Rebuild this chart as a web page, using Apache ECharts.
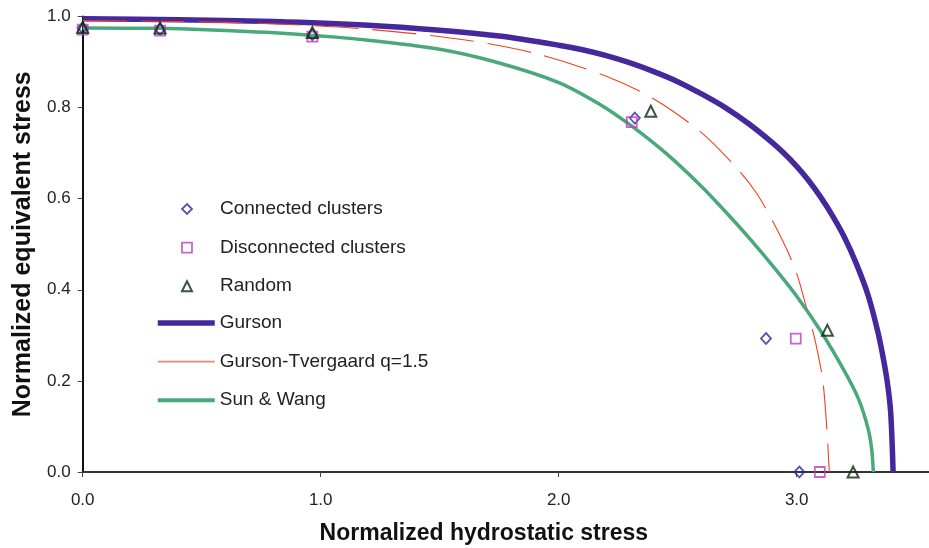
<!DOCTYPE html>
<html>
<head>
<meta charset="utf-8">
<script src="https://cdn.jsdelivr.net/npm/echarts@6/dist/echarts.min.js"></script>
<style>html,body{margin:0;padding:0;background:#fff}#chart{width:929px;height:548px}</style>
</head>
<body>
<div id="chart"></div>
<script>
// ---- data ----
const xTicks = [0, 1, 2, 3];
const yTicks = [0, 0.2, 0.4, 0.6, 0.8, 1.0];

const connected = [[0, 0.975], [0.325, 0.972], [0.965, 0.960], [2.32, 0.777], [2.871, 0.293], [3.011, 0]];
const disconnected = [[0, 0.971], [0.325, 0.969], [0.965, 0.956], [2.307, 0.768], [2.996, 0.293], [3.097, 0]];
const random = [[0, 0.976], [0.325, 0.975], [0.965, 0.965], [2.387, 0.792], [3.129, 0.311], [3.237, 0]];

const gurson = [[0, 0.995], [0.4, 0.993], [0.8, 0.989], [1.2, 0.981], [1.5, 0.970], [1.75, 0.957], [2.0, 0.937],
  [2.1, 0.927], [2.2, 0.914], [2.3, 0.898], [2.4, 0.879], [2.5, 0.857], [2.6, 0.830], [2.7, 0.800], [2.8, 0.764],
  [2.9, 0.722], [2.95, 0.698], [3.0, 0.671], [3.05, 0.640], [3.1, 0.604], [3.15, 0.563], [3.2, 0.516],
  [3.25, 0.458], [3.3, 0.388], [3.34, 0.31], [3.36, 0.26], [3.38, 0.2], [3.395, 0.13], [3.405, 0]];
const gursonTvergaard = [[0, 0.991], [0.4, 0.989], [0.8, 0.984], [1.2, 0.972], [1.6, 0.949], [1.9, 0.919],
  [2.2, 0.869], [2.4, 0.819], [2.6, 0.745], [2.75, 0.666], [2.83, 0.613], [2.9, 0.55], [2.96, 0.487],
  [3.0, 0.436], [3.04, 0.363], [3.07, 0.305], [3.09, 0.258], [3.11, 0.2], [3.126, 0.1], [3.137, 0]];
const sunWang = [[0, 0.975], [0.3, 0.974], [0.6, 0.969], [0.9, 0.961], [1.2, 0.948], [1.5, 0.928], [1.75, 0.898],
  [2.0, 0.855], [2.17, 0.808], [2.3, 0.762], [2.45, 0.70], [2.6, 0.627], [2.7, 0.572], [2.8, 0.514], [2.9, 0.452],
  [3.0, 0.386], [3.1, 0.31], [3.2, 0.222], [3.26, 0.16], [3.3, 0.095], [3.315, 0.05], [3.322, 0]];

const names = ['Connected clusters', 'Disconnected clusters', 'Random', 'Gurson', 'Gurson-Tvergaard q=1.5', 'Sun & Wang'];

// ---- styles ----
const FONT = 'Arial, "Liberation Sans", sans-serif';
const cDiamond = '#3424a0', cSquare = '#bb3dbb', cTri = '#082c0e';
const cGurson = '#47289c', cGT = '#f0401e', cSW = '#49a97a';
const hidden = {color: 'rgba(0,0,0,0)', borderWidth: 0, opacity: 0};
const legendText = {fontFamily: FONT, fontSize: 19, color: '#222'};

const chart = echarts.init(document.getElementById('chart'), null, {renderer: 'canvas'});
chart.setOption({
  animation: false,
  backgroundColor: '#fff',
  grid: {left: 82.7, right: 0, top: 16.5, bottom: 76, containLabel: false, outerBoundsMode: 'none'},
  legend: [{
    orient: 'vertical', left: 181, top: 199.5, padding: 0,
    itemWidth: 10, itemHeight: 10, itemGap: 19.6,
    textStyle: Object.assign({padding: [0, 0, 0, 23]}, legendText),
    data: [
      {name: names[0], itemStyle: {color: 'rgba(0,0,0,0)', borderColor: cDiamond, borderWidth: 1.8}},
      {name: names[1], itemStyle: {color: 'rgba(0,0,0,0)', borderColor: cSquare, borderWidth: 1.8}},
      {name: names[2], itemStyle: {color: 'rgba(0,0,0,0)', borderColor: cTri, borderWidth: 2}}
    ]
  }, {
    orient: 'vertical', left: 155, top: 313.5, padding: 0,
    itemWidth: 57, itemHeight: 10, itemGap: 19.6,
    textStyle: legendText,
    data: [
      {name: names[3], lineStyle: {color: cGurson, width: 5.5, type: 'solid'}, itemStyle: hidden},
      {name: names[4], lineStyle: {color: '#ef8475', width: 1.6, type: 'solid'}, itemStyle: hidden},
      {name: names[5], lineStyle: {color: cSW, width: 4, type: 'solid'}, itemStyle: hidden}
    ]
  }],
  xAxis: [{
    type: 'value', position: 'bottom', min: 0, max: (929 - 82.7) / 238, interval: 1,
    name: 'Normalized hydrostatic stress', nameLocation: 'middle', nameGap: 50,
    nameTextStyle: {fontFamily: FONT, fontSize: 23, fontWeight: 'bold', color: '#111', padding: [0, 44, 0, 0]},
    axisLine: {show: true, onZero: false, lineStyle: {color: '#111', width: 2}},
    axisTick: {show: true, length: 5, inside: false, customValues: xTicks, lineStyle: {color: '#444', width: 1}},
    axisLabel: {customValues: xTicks, fontFamily: FONT, fontSize: 17, color: '#222', margin: 20,
      formatter: v => v.toFixed(1)},
    splitLine: {show: false}
  }, {
    type: 'value', position: 'top', min: 0, max: (929 - 82.7) / 238,
    axisLine: {show: true, lineStyle: {color: '#333', width: 2}},
    axisTick: {show: false}, axisLabel: {show: false}, splitLine: {show: false}
  }],
  yAxis: {
    type: 'value', min: 0, max: 1, interval: 0.2,
    name: 'Normalized equivalent stress', nameLocation: 'middle', nameGap: 47,
    nameTextStyle: {fontFamily: FONT, fontSize: 25, fontWeight: 'bold', color: '#111'},
    axisLine: {show: true, lineStyle: {color: '#111', width: 2}},
    axisTick: {show: true, length: 5, inside: false, customValues: yTicks, lineStyle: {color: '#444', width: 1}},
    axisLabel: {customValues: yTicks, fontFamily: FONT, fontSize: 17, color: '#222', margin: 12,
      formatter: v => v.toFixed(1)},
    splitLine: {show: false}
  },
  series: [
    {name: names[3], type: 'line', data: gurson, showSymbol: false, symbol: 'none', smooth: 0.3, z: 2,
      lineStyle: {color: cGurson, width: 5.5}, itemStyle: {color: cGurson}},
    {name: names[4], type: 'line', data: gursonTvergaard, showSymbol: false, symbol: 'none', smooth: 0.3, z: 2,
      lineStyle: {color: cGT, width: 1.1, type: [44, 14]}, itemStyle: {color: cGT}},
    {name: names[5], type: 'line', data: sunWang, showSymbol: false, symbol: 'none', smooth: 0.3, z: 2,
      lineStyle: {color: cSW, width: 3.5}, itemStyle: {color: cSW}},
    {name: names[0], type: 'scatter', data: connected, symbol: 'diamond', symbolSize: [10, 11], z: 3,
      itemStyle: {color: 'rgba(0,0,0,0)', borderColor: cDiamond, borderWidth: 1.8}},
    {name: names[1], type: 'scatter', data: disconnected, symbol: 'rect', symbolSize: 10, z: 3,
      itemStyle: {color: 'rgba(0,0,0,0)', borderColor: cSquare, borderWidth: 1.8}},
    {name: names[2], type: 'scatter', data: random, symbol: 'triangle', symbolSize: 11, z: 3,
      itemStyle: {color: 'rgba(0,0,0,0)', borderColor: cTri, borderWidth: 2}}
  ]
});
</script>
</body>
</html>
